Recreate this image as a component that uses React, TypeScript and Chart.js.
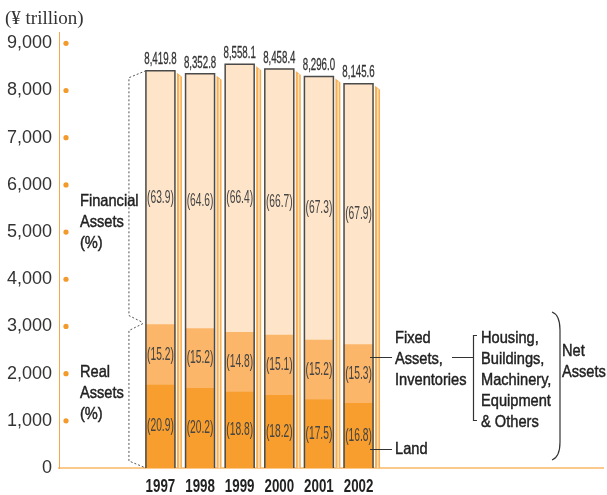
import React, { useEffect, useRef } from 'react';
import { Chart, registerables } from 'chart.js';

Chart.register(...registerables);

const years = [1997, 1998, 1999, 2000, 2001, 2002];
const totalAssets = [8419.8, 8352.8, 8558.1, 8458.4, 8296.0, 8145.6];
const landPct = [20.9, 20.2, 18.8, 18.2, 17.5, 16.8];
const fixedPct = [15.2, 15.2, 14.8, 15.1, 15.2, 15.3];
const financialPct = [63.9, 64.6, 66.4, 66.7, 67.3, 67.9];
const yTickValues = [0, 1000, 2000, 3000, 4000, 5000, 6000, 7000, 8000, 9000];

const COND = "'Liberation Sans', Arial, sans-serif";

function txt(ctx: CanvasRenderingContext2D, s: string, x: number, y: number, font: string, sx: number, align: CanvasTextAlign, color: string, stroke = 0) {
  ctx.save();
  ctx.font = font;
  ctx.fillStyle = color;
  ctx.strokeStyle = color;
  ctx.textBaseline = 'middle';
  ctx.textAlign = align;
  ctx.translate(x, y);
  ctx.scale(sx, 1);
  ctx.fillText(s, 0, 0);
  if (stroke > 0) {
    ctx.lineWidth = stroke;
    ctx.strokeText(s, 0, 0);
  }
  ctx.restore();
}

const fmt1 = (v: number) => v.toLocaleString('en-US', { minimumFractionDigits: 1, maximumFractionDigits: 1 });

const decorPlugin = {
  id: 'decor',
  beforeDatasetsDraw(chart: any) {
    const ctx: CanvasRenderingContext2D = chart.ctx;
    const m0 = chart.getDatasetMeta(0).data;
    const m2 = chart.getDatasetMeta(2).data;
    ctx.save();
    for (let i = 0; i < years.length; i++) {
      const t = m2[i].getProps(['x', 'y', 'width'], true);
      const b = m0[i].getProps(['base'], true);
      const right = t.x + t.width / 2;
      const x0 = right + 2;
      ctx.fillStyle = '#F9AE52';
      ctx.beginPath();
      ctx.moveTo(x0, t.y + 2);
      ctx.lineTo(x0 + 5, t.y + 6);
      ctx.lineTo(x0 + 5, b.base);
      ctx.lineTo(x0, b.base);
      ctx.closePath();
      ctx.fill();
      ctx.fillStyle = '#FDE2BE';
      ctx.fillRect(x0 + 2, t.y + 5, 1.5, b.base - t.y - 5);
    }
    ctx.restore();
  },
  afterDatasetsDraw(chart: any) {
    const ctx: CanvasRenderingContext2D = chart.ctx;
    const m0 = chart.getDatasetMeta(0).data;
    const m1 = chart.getDatasetMeta(1).data;
    const m2 = chart.getDatasetMeta(2).data;
    const segFont = `18px ${COND}`;
    const segSx = 0.57;
    ctx.save();
    for (let i = 0; i < years.length; i++) {
      const e0 = m0[i].getProps(['x', 'y', 'base', 'width'], true);
      const e1 = m1[i].getProps(['y'], true);
      const e2 = m2[i].getProps(['x', 'y', 'width'], true);
      const left = e2.x - e2.width / 2;
      const right = e2.x + e2.width / 2;
      ctx.strokeStyle = '#4a4a4a';
      ctx.lineWidth = 1.5;
      ctx.beginPath();
      ctx.moveTo(left, e0.base);
      ctx.lineTo(left, e2.y);
      ctx.lineTo(right, e2.y);
      ctx.lineTo(right, e0.base);
      ctx.stroke();
      txt(ctx, fmt1(totalAssets[i]), e2.x, e2.y - 11, `17px ${COND}`, 0.57, 'center', '#333', 0.3);
      txt(ctx, `(${financialPct[i].toFixed(1)})`, e2.x, (e2.y + e1.y) / 2, segFont, segSx, 'center', '#444');
      txt(ctx, `(${fixedPct[i].toFixed(1)})`, e2.x, (e1.y + e0.y) / 2, segFont, segSx, 'center', '#444');
      txt(ctx, `(${landPct[i].toFixed(1)})`, e2.x, (e0.y + e0.base) / 2, segFont, segSx, 'center', '#444');
    }
    // dotted brackets on the left of first bar
    const f0 = m0[0].getProps(['base'], true);
    const f1 = m1[0].getProps(['y'], true);
    const f2 = m2[0].getProps(['x', 'y', 'width'], true);
    const l0 = f2.x - f2.width / 2;
    const vx = l0 - 17;
    ctx.strokeStyle = '#555';
    ctx.lineWidth = 1;
    ctx.setLineDash([2, 2]);
    ctx.beginPath();
    ctx.moveTo(l0, f2.y);
    ctx.lineTo(vx, f2.y + 7);
    ctx.lineTo(vx, f1.y - 9);
    ctx.lineTo(l0 - 3, f1.y - 2);
    ctx.moveTo(l0 - 3, f1.y - 1);
    ctx.lineTo(vx, f1.y + 6);
    ctx.lineTo(vx, f0.base - 7);
    ctx.lineTo(l0, f0.base);
    ctx.stroke();
    ctx.setLineDash([]);

    const aFont = `17px ${COND}`;
    const ac = '#222';
    const sx = 0.86;
    const sw = 0.45;
    txt(ctx, 'Financial', 80, 201, aFont, sx, 'left', ac, sw);
    txt(ctx, 'Assets', 80, 222, aFont, sx, 'left', ac, sw);
    txt(ctx, '(%)', 80, 243, aFont, sx, 'left', ac, sw);
    txt(ctx, 'Real', 80, 372, aFont, sx, 'left', ac, sw);
    txt(ctx, 'Assets', 80, 393, aFont, sx, 'left', ac, sw);
    txt(ctx, '(%)', 80, 414, aFont, sx, 'left', ac, sw);

    // right annotations relative to last bar
    const last = m2[years.length - 1].getProps(['x', 'width'], true);
    const rr = last.x + last.width / 2;
    ctx.strokeStyle = '#333';
    ctx.lineWidth = 1.2;
    ctx.beginPath();
    ctx.moveTo(rr - 3, 357.5); ctx.lineTo(rr + 19, 357.5);
    ctx.moveTo(rr - 3, 449.5); ctx.lineTo(rr + 19, 449.5);
    ctx.moveTo(452, 357.5); ctx.lineTo(473.5, 357.5);
    ctx.moveTo(477, 335.5); ctx.lineTo(473.5, 335.5); ctx.lineTo(473.5, 420.5); ctx.lineTo(477, 420.5);
    ctx.stroke();
    ctx.beginPath();
    ctx.moveTo(552, 312);
    ctx.quadraticCurveTo(560, 315, 560, 330);
    ctx.lineTo(560, 442);
    ctx.quadraticCurveTo(560, 457, 552, 460);
    ctx.stroke();

    txt(ctx, 'Fixed', 395, 338, aFont, sx, 'left', ac, sw);
    txt(ctx, 'Assets,', 395, 359, aFont, sx, 'left', ac, sw);
    txt(ctx, 'Inventories', 395, 380, aFont, sx, 'left', ac, sw);
    txt(ctx, 'Land', 395, 449, aFont, sx, 'left', ac, sw);
    txt(ctx, 'Housing,', 481, 338, aFont, sx, 'left', ac, sw);
    txt(ctx, 'Buildings,', 481, 359, aFont, sx, 'left', ac, sw);
    txt(ctx, 'Machinery,', 481, 380, aFont, sx, 'left', ac, sw);
    txt(ctx, 'Equipment', 481, 401, aFont, sx, 'left', ac, sw);
    txt(ctx, '& Others', 481, 422, aFont, sx, 'left', ac, sw);
    txt(ctx, 'Net', 562, 351, aFont, sx, 'left', ac, sw);
    txt(ctx, 'Assets', 562, 372, aFont, sx, 'left', ac, sw);
    ctx.restore();
  },
  afterDraw(chart: any) {
    const ctx: CanvasRenderingContext2D = chart.ctx;
    const ys = chart.scales.y;
    const xs = chart.scales.x;
    ctx.save();
    ctx.fillStyle = '#F39A2C';
    for (const t of ys.ticks) {
      if (t.value <= 0) continue;
      const py = ys.getPixelForValue(t.value);
      ctx.beginPath();
      ctx.arc(66, py, 2.6, 0, Math.PI * 2);
      ctx.fill();
    }
    // condensed x-axis labels placed on the library's x scale ticks
    for (const t of xs.ticks) {
      const px = xs.getPixelForValue(t.value);
      txt(ctx, String(t.value), px, 487, `bold 18px ${COND}`, 0.74, 'center', '#222');
    }
    ctx.font = "19px 'Liberation Serif', serif";
    ctx.fillStyle = '#333';
    ctx.textBaseline = 'middle';
    ctx.textAlign = 'left';
    ctx.fillText('(\u00A5 trillion)', 5, 19);
    ctx.restore();
  },
};

export default function App() {
  const ref = useRef<HTMLCanvasElement | null>(null);
  useEffect(() => {
    document.body.style.margin = '0';
    const canvas = ref.current;
    if (!canvas) return;
    const mk = (pct: number[]) => years.map((yr, i) => ({ x: yr, y: (totalAssets[i] * pct[i]) / 100 }));
    const chart = new Chart(canvas, {
      type: 'bar',
      data: {
        datasets: [
          { label: 'Land', data: mk(landPct), backgroundColor: '#F79E2E', borderWidth: 0, barThickness: 29 },
          { label: 'Fixed Assets, Inventories', data: mk(fixedPct), backgroundColor: '#FBB66A', borderWidth: 0, barThickness: 29 },
          { label: 'Financial Assets', data: mk(financialPct), backgroundColor: '#FEE5C9', borderWidth: 0, barThickness: 29 },
        ] as any,
      },
      options: {
        animation: false,
        responsive: false,
        maintainAspectRatio: false,
        layout: { padding: { top: 32, right: 4, left: 0, bottom: 0 } },
        plugins: { legend: { display: false }, tooltip: { enabled: false } },
        scales: {
          x: {
            type: 'linear',
            min: 1994.44,
            max: 2008.17,
            stacked: true,
            offset: false,
            grid: { display: false, drawTicks: false },
            border: { display: true, color: '#FBC98B', width: 2 },
            ticks: {
              autoSkip: false,
              maxRotation: 0,
              padding: 8,
              color: 'rgba(0,0,0,0)',
              font: { family: COND, size: 18, weight: 'bold' },
              callback: (v: any) => String(v),
            },
            afterBuildTicks: (s: any) => { s.ticks = years.map((v) => ({ value: v })); },
            afterFit: (s: any) => { s.height = 27; },
          },
          y: {
            type: 'linear',
            min: 0,
            max: 9240,
            stacked: true,
            grid: { display: false, drawTicks: false },
            border: { display: true, color: '#F3A64C', width: 1 },
            ticks: {
              padding: 7,
              color: '#333',
              font: { family: "'Liberation Sans', Arial, sans-serif", size: 18 },
              callback: (v: any) => Number(v).toLocaleString('en-US'),
            },
            afterBuildTicks: (s: any) => { s.ticks = yTickValues.map((v) => ({ value: v })); },
            afterFit: (s: any) => { s.width = 59; },
          },
        },
      } as any,
      plugins: [decorPlugin],
    });
    return () => chart.destroy();
  }, []);
  return (
    <div style={{ width: 607, height: 495 }}>
      <canvas ref={ref} width={607} height={495} />
    </div>
  );
}
